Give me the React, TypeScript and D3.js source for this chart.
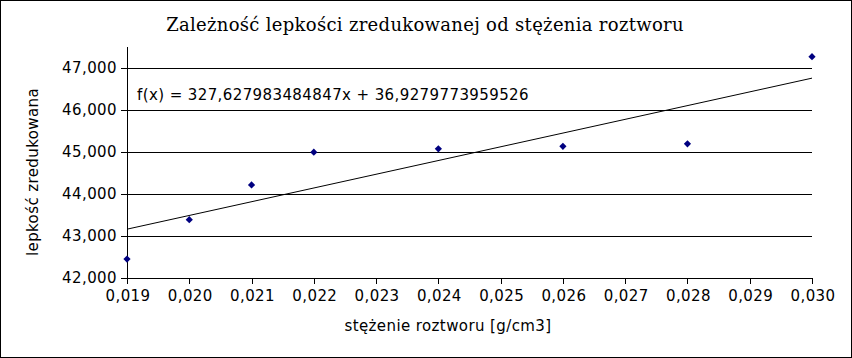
import React from "react";
import * as d3 from "d3";

const concentrations = [0.019, 0.02, 0.021, 0.022, 0.024, 0.026, 0.028, 0.03];
const viscosities = [42.44, 43.38, 44.21, 44.99, 45.07, 45.13, 45.19, 47.27];
const yTicks = [42, 43, 44, 45, 46, 47];
const xTicks = [0.019, 0.02, 0.021, 0.022, 0.023, 0.024, 0.025, 0.026, 0.027, 0.028, 0.029, 0.03];
const slope = 327.627983484847;
const intercept = 36.9279773959526;
const title = "Zależność lepkości zredukowanej od stężenia roztworu";
const xTitle = "stężenie roztworu [g/cm3]";
const yTitle = "lepkość zredukowana";
const equation = "f(x) = 327,627983484847x + 36,9279773959526";

const W = 852, H = 358;
const left = 127, right = 812, top = 47, bottom = 277.5;

const fmtX = (v: number) => v.toFixed(3).replace(".", ",");
const fmtY = (v: number) => d3.format(",.0f")(v * 1000);

export default function App() {
  const x = d3.scaleLinear().domain([0.019, 0.03]).range([left, right]);
  const y = d3.scaleLinear().domain([42, 47.5]).range([bottom, top]);
  const sans = "DejaVu Sans";
  const fs = 15;
  const ls = 0.4;
  const marker = d3.symbol().type(d3.symbolSquare).size(26)();
  const x0 = 0.019, x1 = 0.03;
  return (
    <svg width={W} height={H} style={{ position: "absolute", left: 0, top: 0, background: "#fff" }}>
      <rect x={0.5} y={0.5} width={W - 1} height={H - 1} fill="#fff" stroke="#000" />
      <text x={425} y={31} textAnchor="middle" fontFamily="DejaVu Serif" fontSize={18} letterSpacing={0.3}>{title}</text>
      {yTicks.filter(t => t > 42).map(t => (
        <line key={"g" + t} x1={left} x2={right} y1={Math.round(y(t)) + 0.5} y2={Math.round(y(t)) + 0.5} stroke="#000" />
      ))}
      <line x1={left + 0.5} x2={left + 0.5} y1={top} y2={Math.round(bottom) + 0.5} stroke="#000" />
      <line x1={left} x2={right} y1={Math.round(bottom) + 0.5} y2={Math.round(bottom) + 0.5} stroke="#000" />
      {yTicks.map(t => (
        <g key={"y" + t}>
          <line x1={left - 6} x2={left + 5} y1={Math.round(y(t)) + 0.5} y2={Math.round(y(t)) + 0.5} stroke="#000" />
          <text x={117} y={y(t) + 5.5} textAnchor="end" fontFamily={sans} fontSize={fs} letterSpacing={ls}>{fmtY(t)}</text>
        </g>
      ))}
      {xTicks.map(t => (
        <g key={"x" + t}>
          <line x1={Math.round(x(t)) + 0.5} x2={Math.round(x(t)) + 0.5} y1={Math.round(bottom)} y2={Math.round(bottom) + 6} stroke="#000" />
          <text x={x(t) + 1} y={301} textAnchor="middle" fontFamily={sans} fontSize={fs} letterSpacing={ls}>{fmtX(t)}</text>
        </g>
      ))}
      <line x1={x(x0)} y1={y(slope * x0 + intercept)} x2={x(x1)} y2={y(slope * x1 + intercept)} stroke="#000" strokeWidth={1} />
      {concentrations.map((c, i) => (
        <path key={"p" + i} d={marker!} transform={`translate(${x(c)},${y(viscosities[i])}) rotate(45)`} fill="#000080" />
      ))}
      <text x={137} y={100} fontFamily={sans} fontSize={fs} letterSpacing={ls}>{equation}</text>
      <text x={448} y={331} textAnchor="middle" fontFamily={sans} fontSize={fs} letterSpacing={ls}>{xTitle}</text>
      <text transform={`translate(38,172) rotate(-90)`} textAnchor="middle" fontFamily={sans} fontSize={fs} letterSpacing={ls}>{yTitle}</text>
    </svg>
  );
}
